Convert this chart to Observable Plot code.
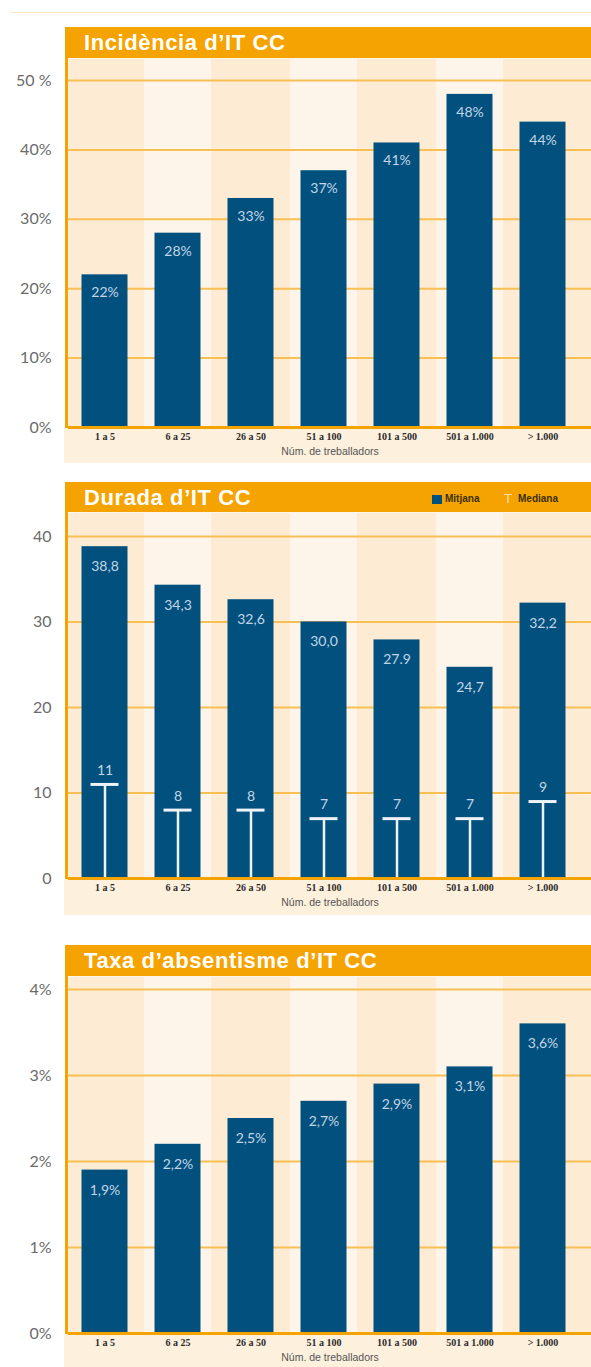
<!DOCTYPE html>
<html><head><meta charset="utf-8">
<script src="https://cdn.jsdelivr.net/npm/d3@7"></script>
<script src="https://cdn.jsdelivr.net/npm/@observablehq/plot@0.6"></script>
<style>
body{margin:0;background:#fff;}
#page{position:relative;width:591px;height:1367px;overflow:hidden;font-family:"Liberation Sans",Arial,sans-serif;}
.hdr{position:absolute;left:65px;width:526px;background:#f5a300;color:#fff;font-weight:bold;font-size:22px;letter-spacing:0.6px;box-sizing:border-box;padding-left:19px;white-space:nowrap;}
.beige{position:absolute;left:64px;width:527px;background:#fdf0dd;}
.lborder{position:absolute;left:65px;width:3px;background:#f5a300;}
.legend{position:absolute;font-size:10px;font-weight:bold;color:#3b3000;font-family:"Liberation Sans",Arial,sans-serif;}
svg{position:absolute;left:0;}
</style></head>
<body><div id="page"></div>
<script>
const categories = ["1 a 5","6 a 25","26 a 50","51 a 100","101 a 500","501 a 1.000","> 1.000"];
const incidencia = [22,28,33,37,41,48,44];
const incLabels = ["22%","28%","33%","37%","41%","48%","44%"];
const incTicks = [0,10,20,30,40,50];
const incTickLabels = ["0%","10%","20%","30%","40%","50 %"];
const durMitjana = [38.8,34.3,32.6,30.0,27.9,24.7,32.2];
const durLabels = ["38,8","34,3","32,6","30,0","27.9","24,7","32,2"];
const durMediana = [11,8,8,7,7,7,9];
const durTicks = [0,10,20,30,40];
const durTickLabels = ["0","10","20","30","40"];
const taxa = [1.9,2.2,2.5,2.7,2.9,3.1,3.6];
const taxaLabels = ["1,9%","2,2%","2,5%","2,7%","2,9%","3,1%","3,6%"];
const taxaTicks = [0,1,2,3,4];
const taxaTickLabels = ["0%","1%","2%","3%","4%"];
const xTitle = "Núm. de treballadors";

const page = document.getElementById("page");
const BAR = "#02507e", GRID = "#f8bf55", ORANGE = "#f5a300";
const LABELFONT = "Lato, 'Open Sans', sans-serif";

function div(cls, style, html) {
  const d = document.createElement("div");
  d.className = cls;
  Object.assign(d.style, style);
  if (html) d.innerHTML = html;
  page.appendChild(d);
  return d;
}

// faint top rule
div("", {position:"absolute", left:"10px", top:"12px", width:"581px", height:"1px", background:"#fce6c4"});

function panel(o) {
  const height = o.bottom - o.top;
  const marginBottom = o.bottom - o.zeroY;
  const data = categories.map((c, i) => ({cat: c, v: o.values[i], label: o.labels[i], med: o.medians ? o.medians[i] : null}));
  const stripes = categories.filter((c, i) => i % 2 === 1);
  const ticks = o.ticks.map((t, i) => ({t, label: o.tickLabels[i]}));

  div("beige", {top: (o.zeroY + 1) + "px", height: (o.bottom - o.zeroY - 1) + "px"});

  const marks = [
    Plot.frame({fill: "#fdebd3", stroke: "none"}),
    Plot.barY(stripes, {x: d => d, y1: 0, y2: o.ymax, fill: "#fef5ea", insetLeft: 3, insetRight: 3}),
    Plot.ruleY(o.ticks.filter(t => t > 0), {stroke: GRID, strokeWidth: 2}),
    Plot.barY(data, {x: "cat", y: "v", fill: BAR, insetLeft: 13.5, insetRight: 13.5}),
    Plot.text(data, {x: "cat", y: "v", text: "label", dy: o.labelDy, fill: "#c3d5e6", fontSize: 14, fontFamily: LABELFONT}),
  ];
  if (o.medians) {
    marks.push(
      Plot.ruleX(data, {x: "cat", y1: 0, y2: "med", stroke: "#eef3f8", strokeWidth: 2.5}),
      Plot.tickY(data, {x: "cat", y: "med", stroke: "#eef3f8", strokeWidth: 3, insetLeft: 22.5, insetRight: 22.5}),
      Plot.text(data, {x: "cat", y: "med", text: d => String(d.med), dy: -14, fill: "#c3d5e6", fontSize: 14, fontFamily: LABELFONT})
    );
  }
  marks.push(
    Plot.ruleY([0], {stroke: ORANGE, strokeWidth: 3}),
    Plot.text(ticks, {y: "t", text: "label", frameAnchor: "left", dx: -17, textAnchor: "end", fill: "#6b6b6b", fontSize: 16, fontFamily: LABELFONT}),
    Plot.text(categories, {x: d => d, text: d => d, frameAnchor: "bottom", dy: 12, fill: "#2a2a2a", fontSize: 10, fontWeight: "bold", fontFamily: "'Liberation Serif', 'DejaVu Serif', serif"}),
    Plot.text([xTitle], {text: d => d, frameAnchor: "bottom", dy: 27, fill: "#555", fontSize: 10.5, fontFamily: "'Liberation Sans', Arial, sans-serif"})
  );

  const svg = Plot.plot({
    width: 591,
    height,
    marginTop: o.headerH,
    marginBottom,
    marginLeft: 68,
    marginRight: 0,
    x: {domain: categories, range: [67.5, 579], padding: 0, axis: null},
    y: {domain: [0, o.ymax], axis: null},
    style: {background: "transparent", overflow: "visible"},
    marks
  });
  svg.style.top = o.top + "px";
  page.appendChild(svg);

  div("hdr", {top: o.top + "px", height: o.headerH + "px", lineHeight: (o.headerH + 1) + "px"}, o.title);
  div("lborder", {top: (o.top + o.headerH) + "px", height: (o.zeroY - o.top - o.headerH + 1) + "px"});
}

panel({top: 27, headerH: 31, zeroY: 427, bottom: 463, ymax: 53.17, title: "Incidència d’IT CC",
  values: incidencia, labels: incLabels, ticks: incTicks, tickLabels: incTickLabels, labelDy: 18});
panel({top: 482, headerH: 30, zeroY: 878, bottom: 915, ymax: 42.8, title: "Durada d’IT CC",
  values: durMitjana, labels: durLabels, medians: durMediana, ticks: durTicks, tickLabels: durTickLabels, labelDy: 20});
panel({top: 945, headerH: 31, zeroY: 1333, bottom: 1367, ymax: 4.151, title: "Taxa d’absentisme d’IT CC",
  values: taxa, labels: taxaLabels, ticks: taxaTicks, tickLabels: taxaTickLabels, labelDy: 20});

// legend for Durada
div("", {position:"absolute", left:"432px", top:"495px", width:"10px", height:"9px", background: BAR});
div("legend", {left:"445px", top:"493px"}, "Mitjana");
div("legend", {left:"504px", top:"491px", color:"#fbe0a8", fontSize:"13px", fontWeight:"normal"}, "T");
div("legend", {left:"518px", top:"493px"}, "Mediana");
</script>
</body></html>
